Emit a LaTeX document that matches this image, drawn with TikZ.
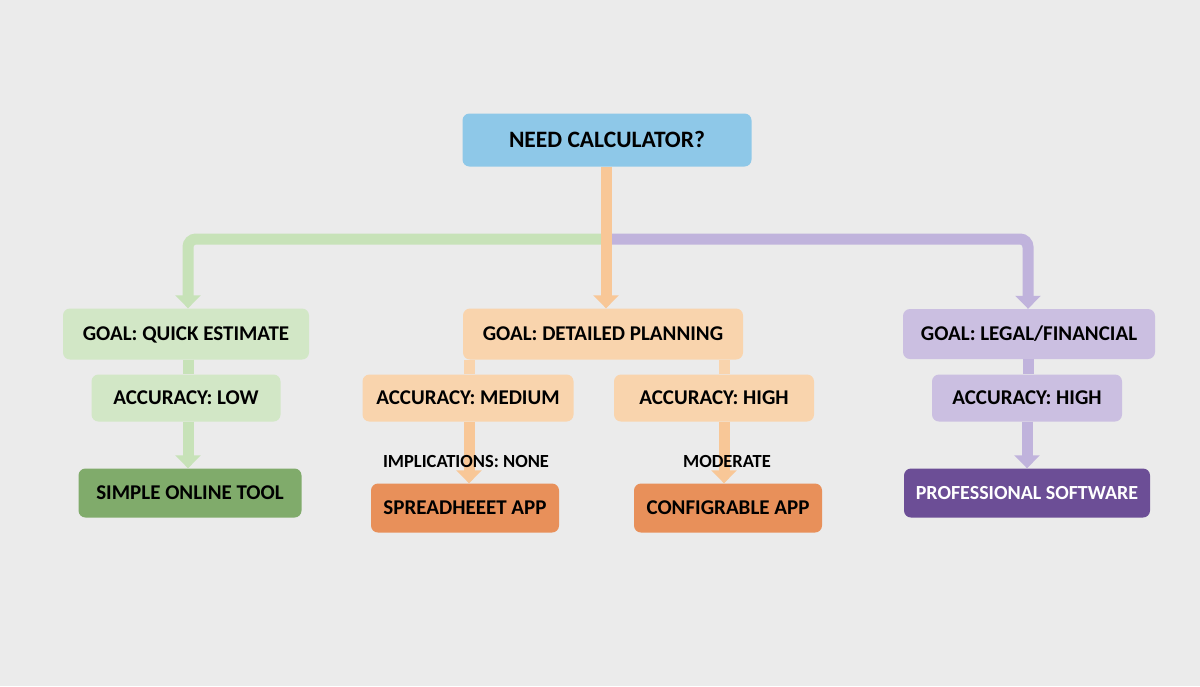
\documentclass[tikz,border=0pt]{standalone}
\usepackage{fontspec}
\setmainfont{Carlito}
\usetikzlibrary{arrows.meta,positioning}
\definecolor{bg}{HTML}{EBEBEB}
\definecolor{cblue}{HTML}{8EC8E8}
\definecolor{gLight}{HTML}{D2E7C6}
\definecolor{gLine}{HTML}{C7E2B8}
\definecolor{gDark}{HTML}{80AB6B}
\definecolor{oLight}{HTML}{F9D4AD}
\definecolor{oLine}{HTML}{F8C797}
\definecolor{oDark}{HTML}{E8905A}
\definecolor{pLight}{HTML}{CBBFE1}
\definecolor{pLine}{HTML}{C0B3DC}
\definecolor{pDark}{HTML}{6C4E96}
\tikzset{
  box/.style={rounded corners=7pt, inner sep=0pt, font=\fontsize{21}{23}\selectfont\bfseries, text=black, text height=13.5pt, text depth=0pt},
  conn/.style={line width=11pt},
  arr/.style={line width=11pt, -{Triangle[width=25pt,length=13pt]}},
  lbl/.style={font=\fontsize{18.5}{20}\selectfont\bfseries, text=black, inner sep=0pt, text height=11.9pt, text depth=0pt}
}
\begin{document}
\begin{tikzpicture}[x=1pt,y=-1pt]
\fill[bg] (0,0) rectangle (1200,686);
\useasboundingbox (0,0) rectangle (1200,686);
% nodes
\node[box, fill=cblue, minimum width=289pt, minimum height=53pt, font=\fontsize{23.5}{25}\selectfont\bfseries, text height=15.1pt] (need) at (607,140) {NEED CALCULATOR?};
\node[box, fill=gLight, minimum width=246pt, minimum height=51pt] (goalq) at (186,334) {GOAL: QUICK ESTIMATE};
\node[box, fill=gLight, minimum width=189pt, minimum height=47pt] (accl) at (186,398) {ACCURACY: LOW};
\node[box, fill=gDark, minimum width=223pt, minimum height=49pt] (simple) at (190,493) {SIMPLE ONLINE TOOL};
\node[box, fill=oLight, minimum width=280pt, minimum height=51pt] (goald) at (603,334) {GOAL: DETAILED PLANNING};
\node[box, fill=oLight, minimum width=211pt, minimum height=47pt] (accm) at (468,398) {ACCURACY: MEDIUM};
\node[box, fill=oLight, minimum width=200pt, minimum height=47pt] (acch) at (714,398) {ACCURACY: HIGH};
\node[box, fill=oDark, minimum width=188pt, minimum height=49pt] (spread) at (465,508) {SPREADHEEET APP};
\node[box, fill=oDark, minimum width=188pt, minimum height=49pt] (cfg) at (728,508) {CONFIGRABLE APP};
\node[box, fill=pLight, minimum width=252pt, minimum height=50pt] (goall) at (1029,334) {GOAL: LEGAL/FINANCIAL};
\node[box, fill=pLight, minimum width=190pt, minimum height=47pt] (acchp) at (1027,398) {ACCURACY: HIGH};
\node[box, fill=pDark, text=white, minimum width=246pt, minimum height=49pt, font=\fontsize{20}{22}\selectfont\bfseries, text height=12.9pt] (prof) at (1027,493) {PROFESSIONAL SOFTWARE};
% branch connectors
\coordinate (jn) at (606,239);
\draw[gLine, conn, rounded corners=8pt, -{Triangle[width=25pt,length=13pt]}] (jn) -| ([xshift=2pt]goalq.north);
\draw[pLine, conn, rounded corners=8pt, -{Triangle[width=25pt,length=13pt]}] (jn) -| ([xshift=-1pt]goall.north);
\draw[oLine, arr] (need.south -| jn) -- (goald.north -| jn);
% green column
\draw[gLine, conn] ([xshift=2pt]goalq.south) -- ([xshift=2pt]goalq.south |- accl.north);
\draw[gLine, arr] ([xshift=2pt]accl.south) -- ([xshift=2pt]accl.south |- simple.north);
% purple column
\draw[pLine, conn] ([xshift=-1pt]goall.south) -- ([xshift=-1pt]goall.south |- acchp.north);
\draw[pLine, arr] (acchp.south) -- (acchp.south |- prof.north);
% orange columns
\draw[oLight, conn] ([xshift=1pt]accm.north) -- ([xshift=1pt]accm.north |- goald.south);
\draw[oLight, conn] ([xshift=10pt]acch.north) -- ([xshift=10pt]acch.north |- goald.south);
\draw[oLine, arr] ([xshift=1pt]accm.south) -- ([xshift=1pt]accm.south |- spread.north);
\draw[oLine, arr] ([xshift=10pt]acch.south) -- ([xshift=10pt]acch.south |- cfg.north);
% labels
\node[lbl] (impl) at (466,462) {IMPLICATIONS: NONE};
\node[lbl] (mod) at (727,462) {MODERATE};
\end{tikzpicture}
\end{document}
